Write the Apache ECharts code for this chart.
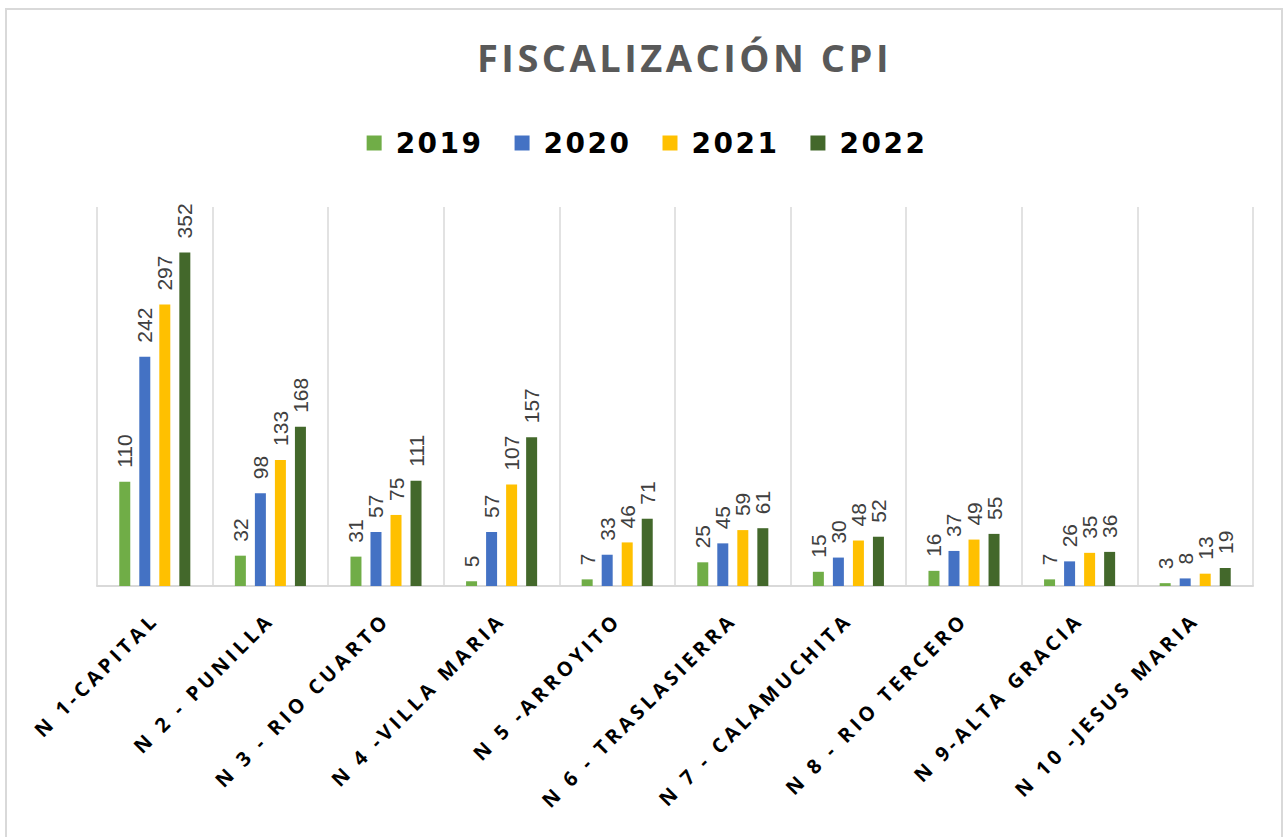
<!DOCTYPE html>
<html>
<head>
<meta charset="utf-8">
<script src="https://cdn.jsdelivr.net/npm/echarts@6/dist/echarts.min.js"></script>
<style>
  html, body { margin: 0; padding: 0; background: #fff; }
  #chart { width: 1284px; height: 837px; }
  /* letter spacing as in the original (svg renderer) */
  #chart text[style*="38px"] { letter-spacing: 3.5px; }
  #chart text[style*="20px"] { letter-spacing: 4px; }
  #chart text[style*="28px"] { letter-spacing: 2.5px; }
</style>
</head>
<body>
<div id="chart"></div>
<script>
const categories = [
  'N 1-CAPITAL', 'N 2 - PUNILLA', 'N 3 - RIO CUARTO', 'N 4 -VILLA MARIA', 'N 5 -ARROYITO',
  'N 6 - TRASLASIERRA', 'N 7 - CALAMUCHITA', 'N 8 - RIO TERCERO', 'N 9-ALTA GRACIA', 'N 10 -JESUS MARIA'
];
const years = ['2019', '2020', '2021', '2022'];
const values2019 = [110, 32, 31, 5, 7, 25, 15, 16, 7, 3];
const values2020 = [242, 98, 57, 57, 33, 45, 30, 37, 26, 8];
const values2021 = [297, 133, 75, 107, 46, 59, 48, 49, 35, 13];
const values2022 = [352, 168, 111, 157, 71, 61, 52, 55, 36, 19];
const colors = ['#70ad47', '#4472c4', '#ffc000', '#43682b'];

const chart = echarts.init(document.getElementById('chart'), null, { renderer: 'svg' });

const seriesData = [values2019, values2020, values2021, values2022];

const option = {
  animation: false,
  backgroundColor: '#fff',
  title: {
    text: 'FISCALIZACIÓN CPI',
    left: 472,
    top: 33,
    textStyle: {
      fontFamily: 'Open Sans',
      fontSize: 38,
      fontWeight: 'bold',
      color: '#595959'
    }
  },
  legend: {
    data: years,
    top: 124,
    left: 'center',
    itemWidth: 15,
    itemHeight: 15,
    itemGap: 41,
    icon: 'rect',
    textStyle: {
      fontFamily: 'DejaVu Sans',
      fontSize: 28,
      fontWeight: 'bold',
      color: '#000',
      padding: [0, 0, 0, 9]
    }
  },
  grid: {
    left: 97,
    right: 31,
    top: 207,
    bottom: 251
  },
  xAxis: {
    type: 'category',
    data: categories,
    axisLine: { lineStyle: { color: '#d9d9d9', width: 2 } },
    axisTick: { show: false },
    splitLine: { show: true, lineStyle: { color: '#d9d9d9', width: 1.5 } },
    axisLabel: {
      interval: 0,
      rotate: 45,
      margin: 30,
      fontFamily: 'Open Sans',
      fontSize: 20,
      fontWeight: 'bold',
      color: '#000'
    }
  },
  yAxis: {
    type: 'value',
    min: 0,
    max: 400,
    show: false,
    splitLine: { show: false }
  },
  series: years.map((y, i) => ({
    name: y,
    type: 'bar',
    data: seriesData[i],
    barWidth: 11,
    barGap: '82%',
    itemStyle: { color: colors[i] },
    label: {
      show: true,
      position: 'top',
      rotate: 90,
      align: 'left',
      verticalAlign: 'middle',
      distance: 14,
      fontFamily: 'Liberation Sans',
      fontSize: 21,
      color: '#404040'
    }
  })),
  graphic: [{
    type: 'rect',
    shape: { x: 6, y: 9, width: 1276, height: 840 },
    style: { fill: 'none', stroke: '#d9d9d9', lineWidth: 2 },
    silent: true
  }]
};

chart.setOption(option);
</script>
</body>
</html>
